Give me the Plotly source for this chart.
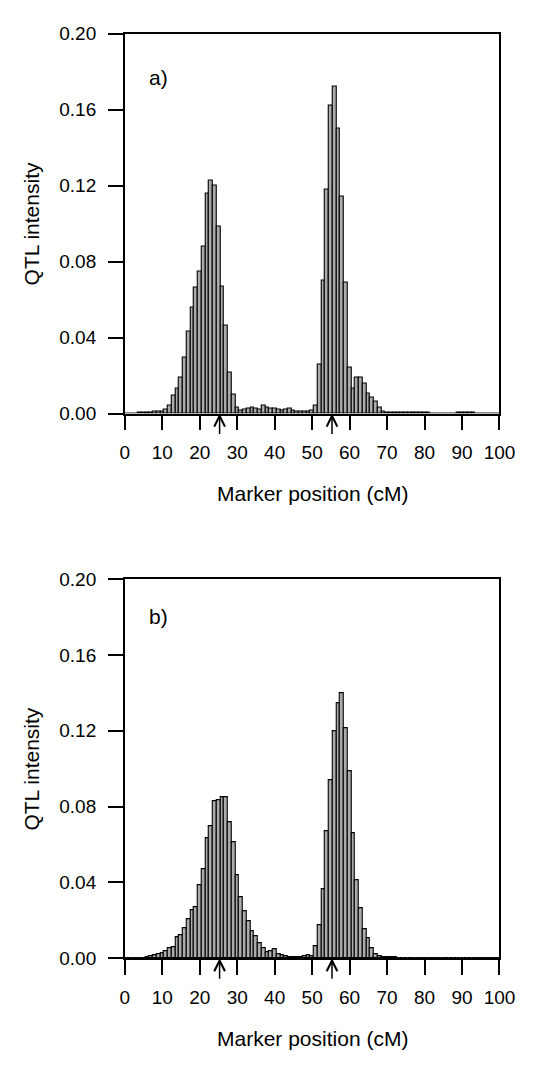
import plotly.graph_objects as go

# Marker positions (cM), one bar per cM
positions = list(range(0, 101))

# Panel a) QTL intensity
intensity_a = [
    0.0002, 0.0002, 0.0002, 0.0002, 0.0003, 0.0003, 0.0005, 0.0008, 0.0010, 0.0010,
    0.0012, 0.0021, 0.0043, 0.0095, 0.0133, 0.0190, 0.0296, 0.0430, 0.0556, 0.0665,
    0.0746, 0.0880, 0.1160, 0.1228, 0.1200, 0.0987, 0.0667, 0.0465, 0.0215, 0.0098,
    0.0030, 0.0017, 0.0020, 0.0026, 0.0030, 0.0024, 0.0020, 0.0040, 0.0034, 0.0026,
    0.0024, 0.0019, 0.0017, 0.0022, 0.0024, 0.0017, 0.0012, 0.0012, 0.0012, 0.0012,
    0.0017, 0.0040, 0.0260, 0.0700, 0.1180, 0.1620, 0.1720, 0.1500, 0.1140, 0.0690,
    0.0245, 0.0130, 0.0190, 0.0190, 0.0160, 0.0107, 0.0086, 0.0064, 0.0030, 0.0012,
    0.0008, 0.0008, 0.0007, 0.0007, 0.0006, 0.0005, 0.0004, 0.0004, 0.0003, 0.0003,
    0.0003, 0.0003, 0.0002, 0.0002, 0.0002, 0.0002, 0.0002, 0.0002, 0.0002, 0.0003,
    0.0003, 0.0004, 0.0004, 0.0003, 0.0002, 0.0002, 0.0002, 0.0002, 0.0002, 0.0002,
    0.0002,
]

# Panel b) QTL intensity
intensity_b = [
    0.0002, 0.0002, 0.0002, 0.0002, 0.0003, 0.0003, 0.0005, 0.0009, 0.0016, 0.0019,
    0.0028, 0.0038, 0.0055, 0.0059, 0.0112, 0.0121, 0.0160, 0.0205, 0.0252, 0.0272,
    0.0388, 0.0469, 0.0632, 0.0696, 0.0830, 0.0834, 0.0851, 0.0848, 0.0718, 0.0615,
    0.0438, 0.0322, 0.0248, 0.0193, 0.0145, 0.0115, 0.0081, 0.0055, 0.0033, 0.0038,
    0.0047, 0.0021, 0.0017, 0.0009, 0.0008, 0.0007, 0.0006, 0.0008, 0.0012, 0.0015,
    0.0012, 0.0064, 0.0176, 0.0365, 0.0672, 0.0937, 0.1196, 0.1347, 0.1400, 0.1213,
    0.0989, 0.0661, 0.0412, 0.0262, 0.0155, 0.0107, 0.0055, 0.0021, 0.0009, 0.0006,
    0.0005, 0.0004, 0.0004, 0.0003, 0.0003, 0.0003, 0.0003, 0.0002, 0.0002, 0.0002,
    0.0002, 0.0002, 0.0002, 0.0002, 0.0002, 0.0002, 0.0002, 0.0002, 0.0002, 0.0002,
    0.0002, 0.0002, 0.0002, 0.0002, 0.0002, 0.0002, 0.0002, 0.0002, 0.0002, 0.0002,
    0.0002,
]

# QTL true positions (arrows)
qtl_positions = [25.3, 55.3]

x_ticks = [0, 10, 20, 30, 40, 50, 60, 70, 80, 90, 100]
y_ticks = [0.00, 0.04, 0.08, 0.12, 0.16, 0.20]
y_tick_labels = ["0.00", "0.04", "0.08", "0.12", "0.16", "0.20"]
panel_labels = ["a)", "b)"]
x_title = "Marker position (cM)"
y_title = "QTL intensity"

W, H = 535, 1065
FONT = "Liberation Sans, Arial, sans-serif"

fig = go.Figure()
bar_style = dict(color="#ababab", line=dict(color="black", width=1.1))
fig.add_trace(go.Bar(x=positions, y=intensity_a, width=1, marker=bar_style,
                     xaxis="x", yaxis="y", showlegend=False))
fig.add_trace(go.Bar(x=positions, y=intensity_b, width=1, marker=bar_style,
                     xaxis="x2", yaxis="y2", showlegend=False))

x_dom = [124.7 / W, 514.7 / W]
ya_dom = [1 - 411.7 / H, 1 - 24.0 / H]
yb_dom = [1 - 967.3 / H, 1 - 580.6 / H]

axis_common = dict(
    showline=True, linecolor="black", linewidth=1.5, mirror=True,
    ticks="outside", ticklen=15, tickwidth=1.5, tickcolor="black",
    showgrid=False, zeroline=False,
    tickfont=dict(family=FONT, size=19, color="black"),
)

fig.update_layout(
    width=W, height=H,
    margin=dict(l=0, r=0, t=0, b=0),
    paper_bgcolor="white", plot_bgcolor="white",
    bargap=0,
    xaxis=dict(domain=x_dom, range=[0, 100], tickvals=x_ticks, anchor="y",
               ticklabelstandoff=6, **axis_common),
    yaxis=dict(domain=ya_dom, range=[0, 0.2], tickvals=y_ticks, ticktext=y_tick_labels,
               anchor="x", ticklabelstandoff=8, **axis_common),
    xaxis2=dict(domain=x_dom, range=[0, 100], tickvals=x_ticks, anchor="y2",
                ticklabelstandoff=6, **axis_common),
    yaxis2=dict(domain=yb_dom, range=[0, 0.2], tickvals=y_ticks, ticktext=y_tick_labels,
                anchor="x2", ticklabelstandoff=8, **axis_common),
)

annotations = []
txt = dict(xref="paper", yref="paper", showarrow=False,
           xanchor="center", yanchor="middle")
# panel labels
annotations.append(dict(text=panel_labels[0], x=160 / W, y=1 - 69 / H,
                        font=dict(family=FONT, size=21, color="black"), **txt))
annotations.append(dict(text=panel_labels[1], x=160 / W, y=1 - 619 / H,
                        font=dict(family=FONT, size=21, color="black"), **txt))
# axis titles
for yc in [(24.0 + 411.7) / 2, (580.6 + 967.3) / 2]:
    annotations.append(dict(text=y_title, x=28 / W, y=1 - yc / H, textangle=-90,
                            font=dict(family=FONT, size=21, color="black"), **txt))
for yc in [493, 1049]:
    annotations.append(dict(text=x_title, x=319.7 / W, y=1 - yc / H,
                            font=dict(family=FONT, size=21, color="black"), **txt))
# arrows marking QTL positions
for xr, yr in [("x", "y"), ("x2", "y2")]:
    for q in qtl_positions:
        annotations.append(dict(text="", xref=xr, yref=yr, x=q, y=0,
                                ax=0, ay=22, showarrow=True, arrowhead=5,
                                arrowsize=1.4, arrowwidth=1.5, arrowcolor="black"))
fig.update_layout(annotations=annotations)

fig.write_html("out.html")
